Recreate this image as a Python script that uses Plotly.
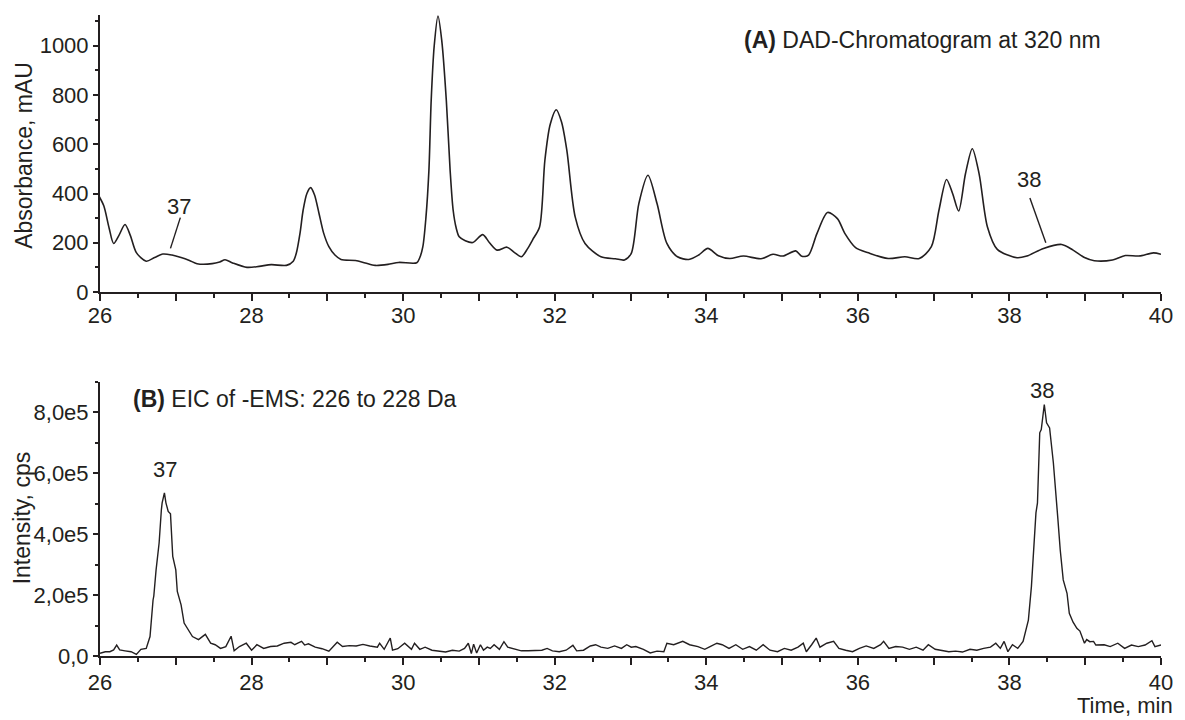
import plotly.graph_objects as go

# ---------------- data ----------------
# (A) DAD chromatogram at 320 nm
dad_time = [25.98, 26.05, 26.12, 26.18, 26.25, 26.33, 26.40, 26.48, 26.61, 26.72, 26.83, 26.95, 27.07,
            27.18, 27.28, 27.48, 27.58, 27.65, 27.75, 27.94, 28.10, 28.26, 28.46, 28.55, 28.59, 28.64,
            28.68, 28.73, 28.78, 28.83, 28.89, 28.95, 29.02, 29.10, 29.18, 29.37, 29.50, 29.63, 29.80,
            29.94, 30.18, 30.22, 30.26, 30.30, 30.34, 30.37, 30.41, 30.46, 30.51, 30.57, 30.62, 30.66,
            30.70, 30.74, 30.82, 30.92, 31.05, 31.14, 31.24, 31.37, 31.47, 31.56, 31.64, 31.71, 31.80,
            31.87, 31.94, 32.02, 32.09, 32.16, 32.27, 32.40, 32.61, 32.80, 32.92, 33.01, 33.11, 33.23,
            33.35, 33.48, 33.62, 33.77, 33.90, 34.02, 34.16, 34.31, 34.49, 34.72, 34.88, 35.01, 35.18,
            35.26, 35.35, 35.46, 35.60, 35.73, 35.83, 35.97, 36.14, 36.40, 36.62, 36.81, 36.97, 37.07,
            37.17, 37.25, 37.33, 37.42, 37.51, 37.60, 37.71, 37.84, 38.10, 38.23, 38.45, 38.69, 38.84,
            38.99, 39.12, 39.36, 39.53, 39.71, 39.90, 40.00]
dad_abs = [393, 350, 260, 197, 230, 274, 230, 160, 125, 140, 154, 150, 140,
           128, 115, 115, 122, 131, 118, 100, 104, 111, 108, 125, 157, 240,
           332, 400, 424, 395, 319, 240, 184, 150, 132, 128, 118, 108, 112,
           120, 119, 140, 184, 300, 494, 777, 1000, 1121, 1020, 777, 494, 332,
           260, 224, 208, 201, 233, 200, 170, 182, 160, 143, 175, 213, 264,
           534, 680, 740, 690, 575, 305, 197, 143, 135, 130, 157, 359, 474,
           359, 197, 143, 132, 150, 177, 147, 136, 146, 135, 153, 146, 167,
           145, 150, 237, 323, 298, 237, 180, 159, 136, 143, 136, 184, 332,
           457, 400, 329, 480, 582, 480, 264, 173, 139, 146, 177, 193, 170,
           140, 127, 130, 148, 146, 159, 153]

# (B) EIC of -EMS: 226 to 228 Da
eic_time = [26.00, 26.07, 26.13, 26.18, 26.22, 26.26, 26.33, 26.41, 26.48, 26.54, 26.61, 26.66, 26.70,
            26.71, 26.74, 26.78, 26.81, 26.82, 26.85, 26.87, 26.90, 26.93, 26.96, 27.00, 27.02, 27.07,
            27.11, 27.15, 27.22, 27.30, 27.39, 27.46, 27.52, 27.59, 27.66, 27.73, 27.77, 27.84, 27.93,
            28.00, 28.07, 28.16, 28.25, 28.34, 28.43, 28.52, 28.57, 28.61, 28.66, 28.70, 28.75, 28.84,
            28.93, 29.02, 29.11, 29.13, 29.20, 29.29, 29.38, 29.47, 29.56, 29.66, 29.69, 29.75, 29.83,
            29.86, 29.93, 30.02, 30.11, 30.15, 30.22, 30.29, 30.38, 30.47, 30.56, 30.65, 30.74, 30.81,
            30.86, 30.90, 30.93, 30.97, 31.02, 31.06, 31.11, 31.15, 31.20, 31.27, 31.33, 31.38, 31.47,
            31.56, 31.65, 31.74, 31.83, 31.90, 31.97, 32.06, 32.15, 32.24, 32.29, 32.38, 32.47, 32.54,
            32.61, 32.70, 32.79, 32.88, 32.95, 33.01, 33.07, 33.17, 33.26, 33.35, 33.44, 33.48, 33.57,
            33.69, 33.78, 33.89, 33.98, 34.05, 34.14, 34.21, 34.30, 34.39, 34.48, 34.57, 34.66, 34.75,
            34.84, 34.94, 35.03, 35.12, 35.21, 35.28, 35.32, 35.39, 35.45, 35.50, 35.59, 35.68, 35.75,
            35.84, 35.93, 36.02, 36.11, 36.21, 36.30, 36.34, 36.41, 36.50, 36.59, 36.68, 36.77, 36.86,
            36.93, 37.02, 37.11, 37.20, 37.29, 37.38, 37.48, 37.57, 37.66, 37.75, 37.82, 37.88, 37.93,
            37.98, 38.04, 38.11, 38.18, 38.25, 38.29, 38.35, 38.37, 38.40, 38.42, 38.45, 38.46, 38.49,
            38.51, 38.53, 38.58, 38.62, 38.64, 38.67, 38.71, 38.76, 38.79, 38.84, 38.89, 38.93, 38.99,
            39.02, 39.06, 39.11, 39.14, 39.25, 39.33, 39.43, 39.52, 39.61, 39.70, 39.79, 39.88, 39.92,
            40.00]
eic_int = [9e3, 14e3, 14e3, 20e3, 36e3, 20e3, 17e3, 14e3, 5e3, 22e3, 25e3, 64e3, 184e3,
           197e3, 283e3, 371e3, 481e3, 503e3, 536e3, 503e3, 475e3, 467e3, 327e3, 283e3, 212e3, 168e3,
           108e3, 91e3, 64e3, 54e3, 71e3, 42e3, 37e3, 25e3, 31e3, 65e3, 17e3, 31e3, 42e3,
           19e3, 37e3, 25e3, 31e3, 33e3, 42e3, 45e3, 37e3, 42e3, 48e3, 36e3, 40e3, 29e3,
           24e3, 16e3, 40e3, 45e3, 31e3, 34e3, 33e3, 38e3, 33e3, 29e3, 42e3, 22e3, 59e3,
           19e3, 24e3, 42e3, 22e3, 42e3, 22e3, 29e3, 19e3, 17e3, 13e3, 19e3, 16e3, 25e3,
           42e3, 8e3, 39e3, 10e3, 37e3, 19e3, 29e3, 25e3, 37e3, 22e3, 47e3, 29e3, 22e3,
           17e3, 17e3, 19e3, 19e3, 25e3, 17e3, 14e3, 19e3, 35e3, 17e3, 19e3, 33e3, 37e3,
           29e3, 25e3, 33e3, 25e3, 37e3, 29e3, 31e3, 22e3, 10e3, 16e3, 14e3, 42e3, 37e3,
           48e3, 37e3, 31e3, 22e3, 31e3, 42e3, 37e3, 25e3, 37e3, 22e3, 31e3, 19e3, 37e3,
           19e3, 14e3, 25e3, 19e3, 29e3, 42e3, 14e3, 37e3, 59e3, 29e3, 42e3, 48e3, 25e3,
           19e3, 14e3, 25e3, 33e3, 25e3, 37e3, 48e3, 25e3, 31e3, 29e3, 22e3, 29e3, 19e3,
           37e3, 22e3, 19e3, 14e3, 16e3, 13e3, 22e3, 19e3, 25e3, 29e3, 42e3, 25e3, 48e3,
           14e3, 37e3, 25e3, 48e3, 118e3, 228e3, 470e3, 503e3, 733e3, 744e3, 810e3, 826e3, 766e3,
           755e3, 749e3, 634e3, 491e3, 448e3, 349e3, 250e3, 206e3, 140e3, 111e3, 91e3, 82e3, 42e3,
           54e3, 47e3, 48e3, 36e3, 37e3, 31e3, 42e3, 25e3, 36e3, 31e3, 36e3, 50e3, 31e3,
           36e3]

x_tick_vals = [26, 27, 28, 29, 30, 31, 32, 33, 34, 35, 36, 37, 38, 39, 40]
x_tick_text = ["26", "", "28", "", "30", "", "32", "", "34", "", "36", "", "38", "", "40"]
a_tick_vals = [0, 200, 400, 600, 800, 1000]
a_tick_text = ["0", "200", "400", "600", "800", "1000"]
b_tick_vals = [0, 2e5, 4e5, 6e5, 8e5]
b_tick_text = ["0,0", "2,0e5", "4,0e5", "6,0e5", "8,0e5"]

# ---------------- figure ----------------
INK = "#231f20"
FONT = "Liberation Sans, Arial, sans-serif"

fig = go.Figure()
fig.add_trace(go.Scatter(x=dad_time, y=dad_abs, mode="lines", xaxis="x", yaxis="y",
                         line=dict(color=INK, width=1.6, shape="spline", smoothing=0.8),
                         showlegend=False, hoverinfo="skip"))
fig.add_trace(go.Scatter(x=eic_time, y=eic_int, mode="lines", xaxis="x2", yaxis="y2",
                         line=dict(color=INK, width=1.4), showlegend=False, hoverinfo="skip"))

common_x = dict(range=[26, 40], tickmode="array", tickvals=x_tick_vals, ticktext=x_tick_text,
                ticks="outside", ticklen=7, tickwidth=1.8, tickcolor=INK,
                minor=dict(dtick=0.5, tick0=26, ticks="outside", ticklen=4, tickwidth=1.5, tickcolor=INK),
                showline=True, linecolor=INK, linewidth=2, showgrid=False, zeroline=False,
                tickfont=dict(family=FONT, size=22, color=INK), domain=[0, 1])
common_y = dict(ticks="outside", ticklen=5, tickwidth=1.8, tickcolor=INK,
                showline=True, linecolor=INK, linewidth=2, showgrid=False, zeroline=False,
                tickfont=dict(family=FONT, size=22, color=INK))

fig.update_layout(
    width=1185, height=720,
    margin=dict(l=100, r=13, t=15, b=64),
    paper_bgcolor="white", plot_bgcolor="white",
    font=dict(family=FONT, color=INK),
    xaxis=dict(anchor="y", ticklabelstandoff=-4, **common_x),
    xaxis2=dict(anchor="y2", ticklabelstandoff=-1, **common_x),
    yaxis=dict(domain=[0.5679, 1.0], range=[0, 1125], anchor="x", tickmode="array",
               tickvals=a_tick_vals, ticktext=a_tick_text,
               minor=dict(dtick=100, tick0=0, ticks="outside", ticklen=3, tickwidth=1.5, tickcolor=INK),
               **common_y),
    yaxis2=dict(domain=[0.0, 0.4275], range=[0, 9.0e5], anchor="x2", tickmode="array",
                tickvals=b_tick_vals, ticktext=b_tick_text,
                minor=dict(dtick=1e5, tick0=0, ticks="outside", ticklen=3, tickwidth=1.5, tickcolor=INK),
                **common_y),
)

ann_font = dict(family=FONT, size=22, color=INK)
big_font = dict(family=FONT, size=23, color=INK)
annotations = [
    dict(text="Absorbance, mAU", xref="paper", yref="paper", x=-0.0718, y=0.7816,
         textangle=-90, showarrow=False, xanchor="center", yanchor="middle", font=big_font),
    dict(text="Intensity, cps", xref="paper", yref="paper", x=-0.0732, y=0.2153,
         textangle=-90, showarrow=False, xanchor="center", yanchor="middle", font=big_font),
    dict(text="Time, min", xref="paper", yref="paper", x=1.013, y=-0.0775,
         showarrow=False, xanchor="right", yanchor="middle", font=ann_font),
    dict(text="<b>(A)</b> DAD-Chromatogram at 320 nm", xref="paper", yref="paper", x=0.6054, y=0.961,
         showarrow=False, xanchor="left", yanchor="middle", font=big_font),
    dict(text="<b>(B)</b> EIC of -EMS: 226 to 228 Da", xref="paper", yref="paper", x=0.0289, y=0.401,
         showarrow=False, xanchor="left", yanchor="middle", font=big_font),
    dict(text="37", xref="x", yref="y", x=27.04, y=348, showarrow=False, font=ann_font),
    dict(text="38", xref="x", yref="y", x=38.26, y=455, showarrow=False, font=ann_font),
    dict(text="37", xref="x2", yref="y2", x=26.86, y=612e3, showarrow=False, font=ann_font),
    dict(text="38", xref="x2", yref="y2", x=38.43, y=872e3, showarrow=False, font=ann_font),
]
fig.update_layout(annotations=annotations)

fig.add_shape(type="line", xref="x", yref="y", x0=27.06, y0=302, x1=26.93, y1=177,
              line=dict(color=INK, width=1.4))
fig.add_shape(type="line", xref="x", yref="y", x0=38.27, y0=382, x1=38.48, y1=200,
              line=dict(color=INK, width=1.4))

fig.write_html("out.html")
